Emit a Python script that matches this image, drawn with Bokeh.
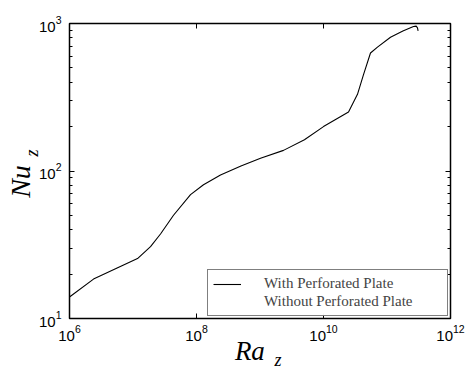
from bokeh.plotting import figure
from bokeh.models import LogAxis, FixedTicker, Legend, LegendItem, CustomJSTickFormatter
from bokeh.embed import file_html
from bokeh.resources import INLINE

# data
ra_with = [1e6, 10**6.378, 10**6.75, 10**7.071, 10**7.276, 10**7.433, 10**7.638, 10**7.906, 10**8.11,
           10**8.378, 10**8.7, 10**9.008, 10**9.37, 10**9.7, 1e10, 10**10.394, 10**10.535, 10**10.63,
           10**10.74, 10**10.85, 10**11.055, 10**11.25, 10**11.417, 10**11.46, 10**11.48, 10**11.49]
nu_with = [14.0, 18.5, 22.0, 25.5, 30.7, 37.4, 50.1, 69.2, 80.7, 94.0, 108, 122, 138, 163, 200,
           251, 331, 450, 631, 692, 807, 890, 955, 960, 935, 890]
ra_without = []
nu_without = []
x_ticks = [1e6, 1e8, 1e10, 1e12]
y_ticks = [10, 100, 1000]
y_minor = [20, 30, 40, 50, 60, 70, 80, 90, 200, 300, 400, 500, 600, 700, 800, 900]
NB = "\u00a0"

p = figure(width=465, height=372, x_axis_type="log", y_axis_type="log",
           x_range=(1e6, 1e12), y_range=(10, 1000),
           output_backend="svg", toolbar_location=None,
           min_border_left=69, min_border_right=15, min_border_top=23, min_border_bottom=49)
p.grid.visible = False
p.outline_line_color = "black"
p.outline_line_width = 1.5

l1 = p.line(ra_with, nu_with, line_color="black", line_width=1.1)
l2 = p.line(ra_without, nu_without, line_color="black", line_width=1, line_dash="4 2 1 2")

def style(ax):
    ax.major_tick_in = 5
    ax.major_tick_out = 0
    ax.minor_tick_in = 3
    ax.minor_tick_out = 0
    ax.axis_line_color = "black"
    ax.major_tick_line_color = "black"
    ax.minor_tick_line_color = "black"
    ax.major_label_text_font = "Liberation Sans"
    ax.major_label_text_font_size = "15px"
    ax.major_label_text_color = "black"

def title_style(ax, size):
    ax.axis_label_text_font = "Liberation Serif"
    ax.axis_label_text_font_style = "italic"
    ax.axis_label_text_font_size = size
    ax.axis_label_text_color = "black"

def bare(ax):
    ax.axis_line_color = None
    ax.major_tick_line_color = None
    ax.minor_tick_line_color = None
    ax.major_tick_in = 0
    ax.major_tick_out = 0
    ax.minor_tick_in = 0
    ax.minor_tick_out = 0
    ax.major_label_standoff = 0

# bottom axis: tick labels + "Ra"
xa = p.xaxis[0]
xa.ticker = FixedTicker(ticks=x_ticks)
style(xa)
xa.major_label_standoff = 6
xa.axis_label = "Ra" + NB * 3
title_style(xa, "27px")
xa.axis_label_standoff = -8

# extra bottom axis carrying the subscript "z"
xsub = LogAxis(ticker=FixedTicker(ticks=[]), axis_label=NB * 8 + "z")
bare(xsub)
title_style(xsub, "18px")
xsub.axis_label_standoff = -19
p.add_layout(xsub, "below")

# left axis: tick labels + subscript "z"
ya = p.yaxis[0]
ya.ticker = FixedTicker(ticks=y_ticks, minor_ticks=y_minor)
style(ya)
ya.major_label_standoff = 8
ya.axis_label = NB * 8 + "z"
title_style(ya, "18px")
ya.axis_label_standoff = -6

# outer left axis carrying "Nu"
ynu = LogAxis(ticker=FixedTicker(ticks=[]), axis_label="Nu" + NB * 3)
bare(ynu)
title_style(ynu, "28px")
ynu.axis_label_standoff = -17
p.add_layout(ynu, "left")

top = LogAxis(ticker=FixedTicker(ticks=x_ticks), formatter=CustomJSTickFormatter(code="return ''"))
style(top)
top.major_label_standoff = 0
p.add_layout(top, "above")
right = LogAxis(ticker=FixedTicker(ticks=y_ticks, minor_ticks=y_minor),
                formatter=CustomJSTickFormatter(code="return ''"))
style(right)
right.major_label_standoff = 0
p.add_layout(right, "right")

legend = Legend(items=[LegendItem(label="With Perforated Plate", renderers=[l1]),
                       LegendItem(label="Without Perforated Plate", renderers=[l2])],
                location="bottom_right")
legend.label_text_font = "Liberation Serif"
legend.label_text_font_size = "15px"
legend.border_line_color = "black"
legend.border_line_width = 1
legend.glyph_width = 28
legend.label_standoff = 23
legend.label_width = 178
legend.spacing = 1
legend.padding = 5
legend.margin = 2
legend.label_height = 16
legend.glyph_height = 16
p.add_layout(legend)

open("out.html", "w").write(file_html(p, INLINE))
